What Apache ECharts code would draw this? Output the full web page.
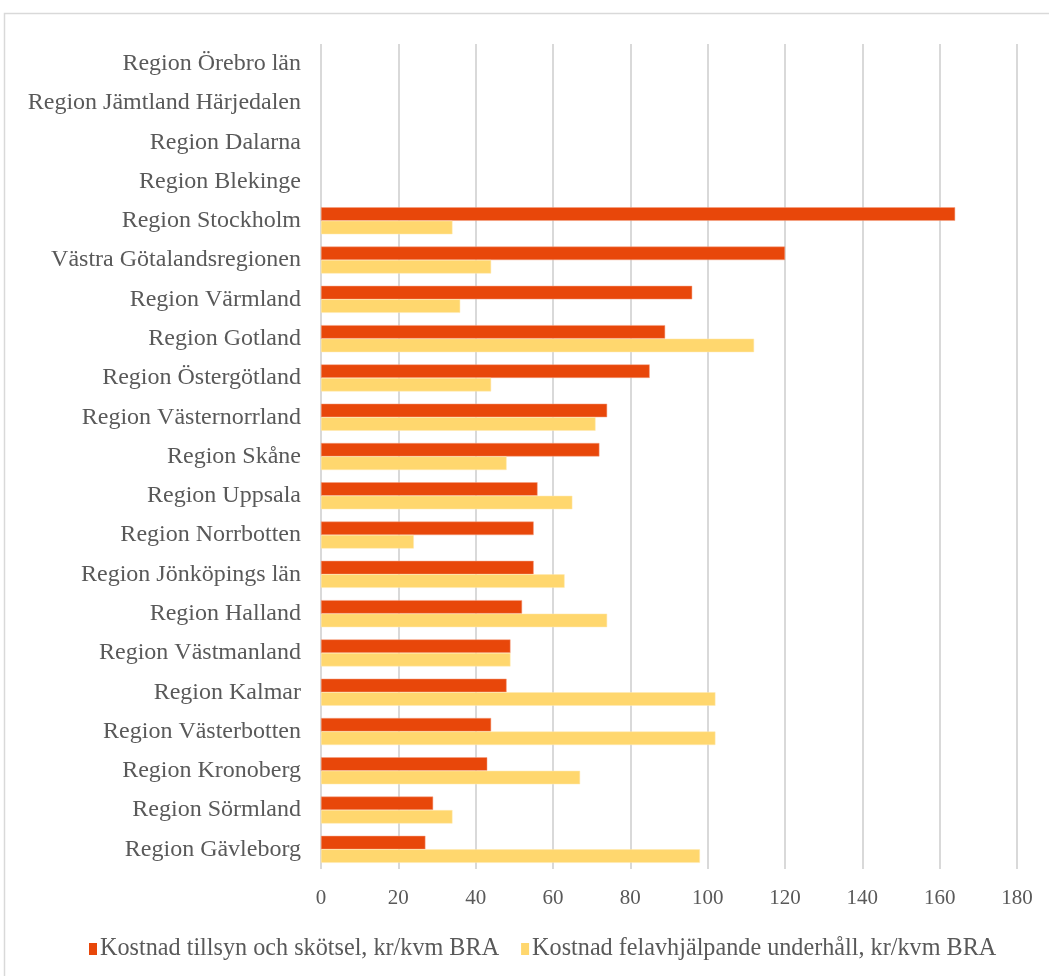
<!DOCTYPE html>
<html><head><meta charset="utf-8">
<script src="https://cdn.jsdelivr.net/npm/echarts@6/dist/echarts.min.js"></script>
<style>html,body{margin:0;padding:0;background:#fff}#c{width:1049px;height:976px}</style>
</head><body><div id="c"></div>
<script>
const categories = ["Region Örebro län","Region Jämtland Härjedalen","Region Dalarna","Region Blekinge","Region Stockholm","Västra Götalandsregionen","Region Värmland","Region Gotland","Region Östergötland","Region Västernorrland","Region Skåne","Region Uppsala","Region Norrbotten","Region Jönköpings län","Region Halland","Region Västmanland","Region Kalmar","Region Västerbotten","Region Kronoberg","Region Sörmland","Region Gävleborg"];
const seriesNames = ["Kostnad tillsyn och skötsel, kr/kvm BRA","Kostnad felavhjälpande underhåll, kr/kvm BRA"];
const tillsyn = [null,null,null,null,164,120,96,89,85,74,72,56,55,55,52,49,48,44,43,29,27];
const felavhjalp = [null,null,null,null,34,44,36,112,44,71,48,65,24,63,74,49,102,102,67,34,98];
const chart = echarts.init(document.getElementById('c'));
const font = "'Liberation Serif','Times New Roman',serif";
chart.setOption({
  animation:false,
  textStyle:{fontFamily:font},
  graphic:[{type:'rect',shape:{x:4.5,y:13.5,width:1060,height:980},style:{fill:null,stroke:'#d9d9d9',lineWidth:1.5},silent:true}],
  grid:{left:321,right:32,top:44,bottom:107,containLabel:false},
  legend:{top:932,left:84,itemWidth:8,itemHeight:12,itemGap:22,icon:'rect',
    itemStyle:{borderWidth:0},
    textStyle:{fontFamily:font,fontSize:24.2,color:'#595959',padding:[0,0,0,-2]},data:seriesNames},
  xAxis:{type:'value',min:0,max:180,interval:20,
    axisLine:{show:false},axisTick:{show:false},
    axisLabel:{fontFamily:font,fontSize:21,color:'#595959',margin:19},
    splitLine:{lineStyle:{color:'#d9d9d9',width:2}}},
  yAxis:{type:'category',inverse:true,data:categories,
    axisLine:{show:false},axisTick:{show:false},
    axisLabel:{fontFamily:font,fontSize:24,color:'#595959',margin:20}},
  series:[
    {name:seriesNames[0],type:'bar',data:tillsyn,barWidth:13.5,barGap:'0%',
      itemStyle:{color:'#E8470A',borderColor:'#f4a080',borderWidth:0.5}},
    {name:seriesNames[1],type:'bar',data:felavhjalp,barWidth:13.5,barGap:'0%',
      itemStyle:{color:'#FFD76E',borderColor:'#ffe9b0',borderWidth:0.5}}
  ]
});
</script></body></html>
